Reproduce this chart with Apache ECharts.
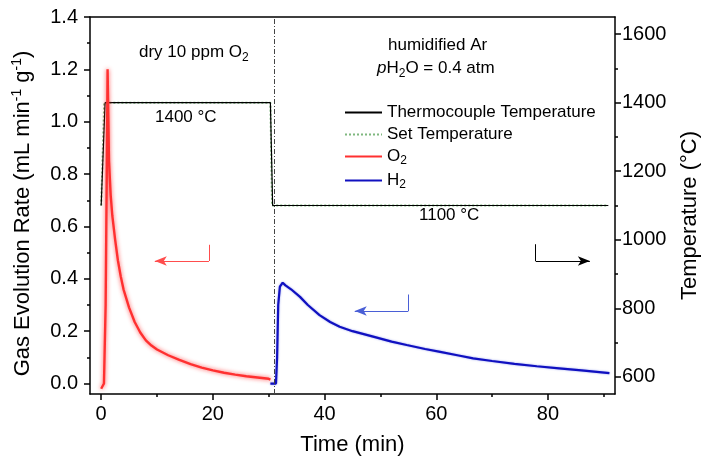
<!DOCTYPE html>
<html>
<head>
<meta charset="utf-8">
<script src="https://cdn.jsdelivr.net/npm/echarts@6/dist/echarts.min.js"></script>
<style>
  html, body { margin: 0; padding: 0; background: #fff; }
  #chart { width: 701px; height: 462px; }
</style>
</head>
<body>
<div id="chart"></div>
<script>
// O2 evolution during the dry 10 ppm O2 step (time in min, rate in mL min^-1 g^-1)
const o2Time = [0, 0.5, 0.8, 1.0, 1.15, 1.4, 1.7, 2.0, 2.5, 3.0, 3.5, 4.0, 5.0, 6.0, 7.0, 8.0, 9.0, 10, 12, 14, 16, 18, 20, 22, 24, 26, 28, 30, 30.3];
const o2Rate = [-0.02, 0.0, 0.3, 0.8, 1.2, 0.85, 0.72, 0.64, 0.55, 0.47, 0.41, 0.36, 0.29, 0.235, 0.195, 0.165, 0.145, 0.13, 0.108, 0.09, 0.074, 0.061, 0.05, 0.041, 0.034, 0.028, 0.023, 0.018, 0.015];

// H2 evolution under humidified Ar
const h2Time = [30.3, 31.3, 31.5, 31.7, 32.0, 32.5, 33, 34, 35.6, 37, 39.1, 41, 42.7, 45, 48.7, 52, 54.7, 58, 60.7, 64, 66.6, 70, 74, 78, 82, 86, 91];
const h2Rate = [0.0, 0.0, 0.1, 0.3, 0.37, 0.385, 0.375, 0.36, 0.331, 0.3, 0.261, 0.235, 0.217, 0.2, 0.179, 0.16, 0.147, 0.132, 0.121, 0.107, 0.096, 0.086, 0.075, 0.066, 0.058, 0.05, 0.04];

// Furnace temperature (°C)
const tcTime = [0, 0.7, 30.3, 30.7, 90.8];
const tcTemp = [1100, 1400, 1400, 1100, 1100];
const setTime = [0, 0.55, 30.3, 30.6, 90.8];
const setTemp = [1100, 1400, 1400, 1100, 1100];

// Gas switch from dry O2 to humidified Ar
const switchTime = 31;

// Axis ticks
const xTicks = [0, 20, 40, 60, 80];
const xMinorTicks = [10, 30, 50, 70, 90];
const rateTicks = [0, 0.2, 0.4, 0.6, 0.8, 1.0, 1.2, 1.4];
const rateMinorTicks = [0.1, 0.3, 0.5, 0.7, 0.9, 1.1, 1.3];
const tempTicks = [600, 800, 1000, 1200, 1400, 1600];
const tempMinorTicks = [700, 900, 1100, 1300, 1500];

const FONT = 'Liberation Sans, Arial, sans-serif';
const pairs = (xs, ys) => xs.map((x, i) => [x, ys[i]]);

const axisLine = { show: true, onZero: false, lineStyle: { color: '#000', width: 1.5 } };
const noLine = { show: false, onZero: false };
const majorTick = vals => ({ show: true, customValues: vals, length: 6, inside: false, lineStyle: { color: '#000', width: 1.5 } });
const minorTick = vals => ({ show: true, customValues: vals, length: 3, inside: false, lineStyle: { color: '#000', width: 1.5 } });
const tickFont = { fontFamily: FONT, fontSize: 20, color: '#000' };
const titleFont = {
  fontFamily: FONT, fontSize: 22, color: '#000', lineHeight: 26,
  rich: { sup: { fontFamily: FONT, fontSize: 14, color: '#000', verticalAlign: 'top', lineHeight: 14 } }
};
// Subscript token: sits at the bottom of a tall line box
const subTok = () => ({ fontFamily: FONT, fontSize: 12, lineHeight: 12, verticalAlign: 'bottom' });
const bodyTok = () => ({ fontFamily: FONT, fontSize: 17, lineHeight: 23, verticalAlign: 'middle' });

const chart = echarts.init(document.getElementById('chart'), null, { renderer: 'canvas' });

// Elbow arrow: a plain segment followed by a segment ending in an arrowhead
const arrow = pts => [
  [{ coord: pts[0], symbol: 'none' }, { coord: pts[1], symbol: 'none' }],
  [{ coord: pts[1], symbol: 'none' }, { coord: pts[2], symbol: 'arrow' }]
];

const richText = (text, left, top, extra) => ({
  type: 'text', left, top,
  style: {
    text, fontFamily: FONT, fontSize: 17, lineHeight: 23, fill: '#000',
    rich: Object.assign({
      b: Object.assign(bodyTok(), { fill: '#000' }),
      sub: Object.assign(subTok(), { fill: '#000' })
    }, extra || {})
  }
});

chart.setOption({
  animation: false,
  backgroundColor: '#fff',
  grid: { left: 90, right: 86, top: 17, bottom: 68, containLabel: false, outerBoundsMode: 'none' },
  xAxis: [
    {
      type: 'value', position: 'bottom', min: -2, max: 92,
      axisLine, axisTick: majorTick(xTicks), splitLine: { show: false },
      axisLabel: Object.assign({ customValues: xTicks, margin: 10, formatter: v => String(v) }, tickFont),
      name: 'Time (min)', nameLocation: 'middle', nameGap: 38, nameTextStyle: titleFont
    },
    {
      type: 'value', position: 'bottom', min: -2, max: 92,
      axisLine: noLine, axisTick: minorTick(xMinorTicks),
      axisLabel: { show: false }, splitLine: { show: false }
    },
    {
      type: 'value', position: 'top', min: -2, max: 92,
      axisLine, axisTick: { show: false }, axisLabel: { show: false }, splitLine: { show: false }
    }
  ],
  yAxis: [
    {
      type: 'value', position: 'left', min: -0.04, max: 1.4,
      axisLine, axisTick: majorTick(rateTicks), splitLine: { show: false },
      axisLabel: Object.assign({ customValues: rateTicks, margin: 12, formatter: v => v.toFixed(1) }, tickFont),
      name: 'Gas Evolution Rate (mL min{sup|-1} g{sup|-1})',
      nameLocation: 'middle', nameRotate: 90, nameGap: 54,
      nameTextStyle: Object.assign({ padding: [0, 16, 0, 0] }, titleFont)
    },
    {
      type: 'value', position: 'left', min: -0.04, max: 1.4,
      axisLine: noLine, axisTick: minorTick(rateMinorTicks),
      axisLabel: { show: false }, splitLine: { show: false }
    },
    {
      type: 'value', position: 'right', min: 550, max: 1650,
      axisLine, axisTick: majorTick(tempTicks), splitLine: { show: false },
      axisLabel: Object.assign({ customValues: tempTicks, margin: 7, formatter: v => String(v) }, tickFont),
      name: 'Temperature (°C)', nameLocation: 'middle', nameRotate: 90, nameGap: 61,
      nameTextStyle: Object.assign({ padding: [0, 20, 0, 0] }, titleFont)
    },
    {
      type: 'value', position: 'right', min: 550, max: 1650,
      axisLine: noLine, axisTick: minorTick(tempMinorTicks),
      axisLabel: { show: false }, splitLine: { show: false }
    }
  ],
  legend: {
    orient: 'vertical', left: 339, top: 99,
    itemWidth: 37, itemHeight: 14, itemGap: 5,
    selectedMode: false,
    itemStyle: { opacity: 0 },
    data: ['Thermocouple Temperature', 'Set Temperature', 'O2', 'H2'],
    formatter: name => name === 'O2' ? '{b|O}{sub|2}' : name === 'H2' ? '{b|H}{sub|2}' : '{b|' + name + '}',
    textStyle: {
      fontFamily: FONT, fontSize: 17, color: '#000',
      rich: {
        b: Object.assign(bodyTok(), { color: '#000', lineHeight: 21 }),
        sub: Object.assign(subTok(), { color: '#000' })
      }
    }
  },
  series: [
    {
      name: 'Set Temperature', type: 'line', xAxisIndex: 0, yAxisIndex: 2,
      data: pairs(setTime, setTemp), symbol: 'none', showSymbol: false, z: 2,
      itemStyle: { color: '#7fb87f' },
      lineStyle: { color: '#7fb87f', width: 2, type: 'dotted' },
      markLine: {
        silent: true, symbol: 'none', label: { show: false },
        lineStyle: { color: '#444', width: 1, type: [5, 2, 1, 2] },
        data: [{ xAxis: switchTime }]
      }
    },
    {
      name: 'Thermocouple Temperature', type: 'line', xAxisIndex: 0, yAxisIndex: 2,
      data: pairs(tcTime, tcTemp), symbol: 'none', showSymbol: false, z: 3,
      itemStyle: { color: '#000' },
      lineStyle: { color: '#000', width: 1.2 },
      markLine: {
        silent: true, label: { show: false }, symbolSize: [7, 12],
        lineStyle: { color: '#000', width: 1, type: 'solid' },
        data: arrow([[77.8, 987], [77.8, 938], [87.5, 938]])
      }
    },
    {
      name: 'O2', type: 'line', xAxisIndex: 0, yAxisIndex: 0,
      data: pairs(o2Time, o2Rate), symbol: 'none', showSymbol: false, z: 4,
      itemStyle: { color: '#ff3030' },
      lineStyle: { color: '#ff3030', width: 2.4, shadowColor: 'rgba(255,40,40,0.8)', shadowBlur: 4 },
      markLine: {
        silent: true, label: { show: false }, symbolSize: [7, 12],
        lineStyle: { color: '#ff4d4d', width: 1, type: 'solid', shadowBlur: 0 },
        data: arrow([[19.3, 0.53], [19.3, 0.468], [9.6, 0.468]])
      }
    },
    {
      name: 'H2', type: 'line', xAxisIndex: 0, yAxisIndex: 0,
      data: pairs(h2Time, h2Rate), symbol: 'none', showSymbol: false, z: 4,
      itemStyle: { color: '#1010c0' },
      lineStyle: { color: '#1010c0', width: 2.2, shadowColor: 'rgba(40,60,220,0.5)', shadowBlur: 2 },
      markLine: {
        silent: true, label: { show: false }, symbolSize: [7, 12],
        lineStyle: { color: '#4a5fd6', width: 1, type: 'solid', shadowBlur: 0 },
        data: arrow([[55.0, 0.34], [55.0, 0.277], [45.4, 0.277]])
      }
    }
  ],
  graphic: [
    richText('{b|dry 10 ppm O}{sub|2}', 139, 41),
    richText('{b|1400 °C}', 155, 106),
    richText('{b|humidified Ar}', 388, 34),
    richText('{it|p}{b|H}{sub|2}{b|O = 0.4 atm}', 377, 57, {
      it: Object.assign(bodyTok(), { fontStyle: 'italic', fill: '#000' })
    }),
    richText('{b|1100 °C}', 419, 204)
  ]
});
</script>
</body>
</html>
